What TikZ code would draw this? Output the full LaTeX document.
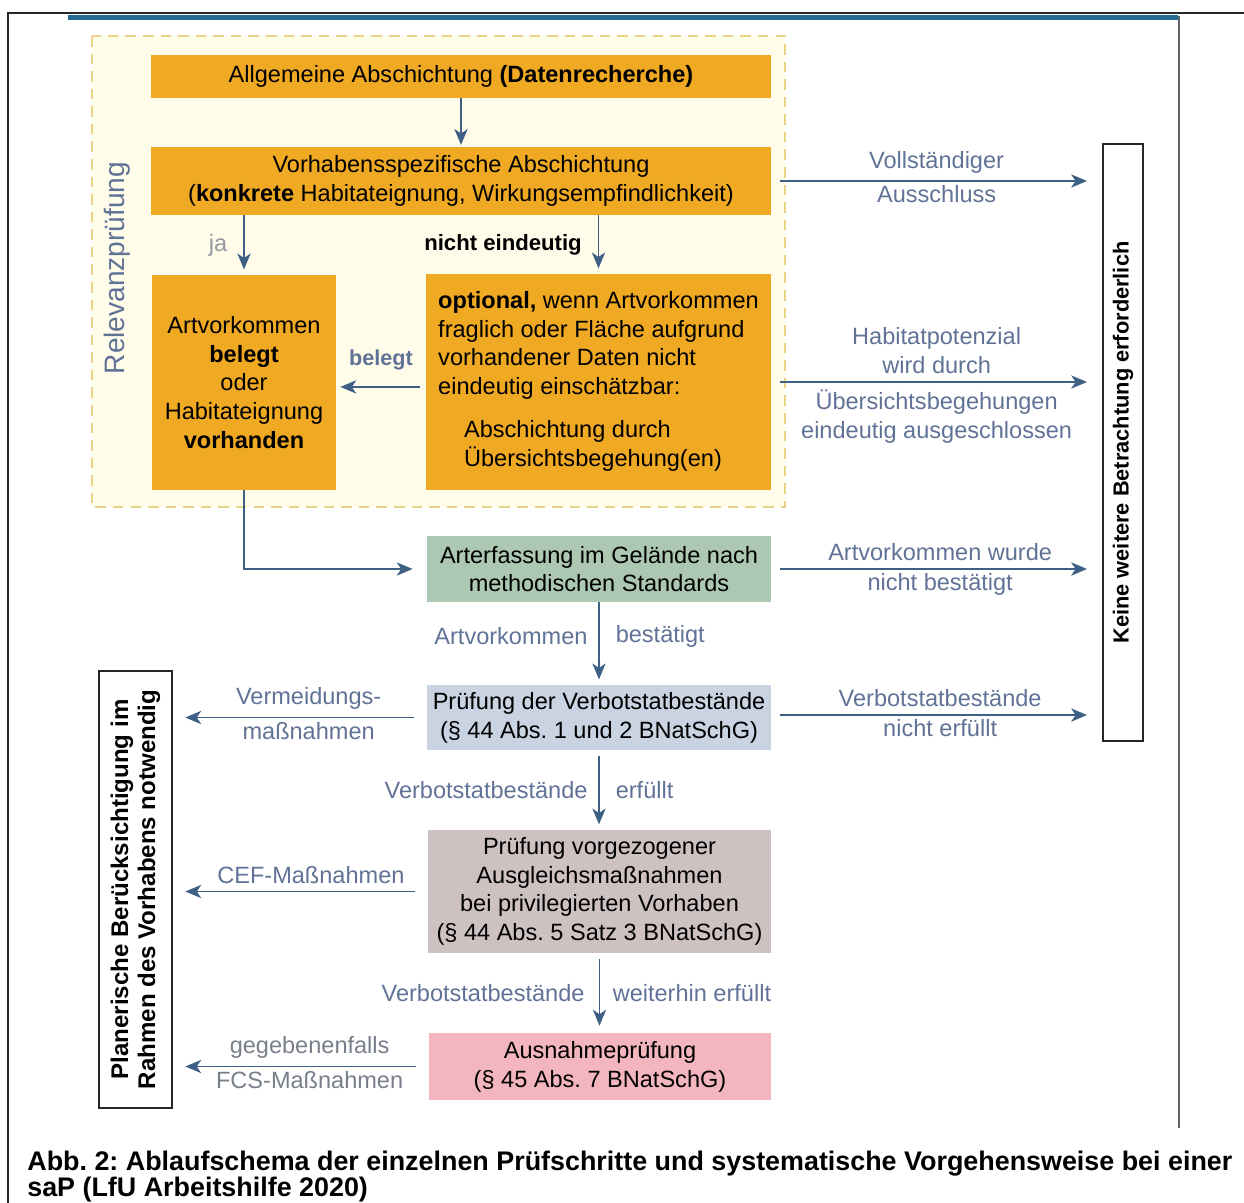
\documentclass[tikz,border=0pt]{standalone}
\usepackage{fontspec}
\setmainfont{Liberation Sans}
\usepackage{graphicx}
\usetikzlibrary{arrows.meta, positioning}
\frenchspacing
\definecolor{boxorange}{RGB}{240,169,34}
\definecolor{boxgreen}{RGB}{172,200,178}
\definecolor{boxblue}{RGB}{201,211,226}
\definecolor{boxgrey}{RGB}{206,193,193}
\definecolor{boxpink}{RGB}{243,182,190}
\definecolor{arrowblue}{RGB}{62,96,132}
\definecolor{labelblue}{RGB}{96,114,150}
\definecolor{labelgrey}{RGB}{120,126,138}
\definecolor{zonefill}{RGB}{255,252,234}
\definecolor{zoneline}{RGB}{232,212,135}
\definecolor{headblue}{RGB}{36,108,148}
\tikzset{stepbox/.style={fill=#1, inner sep=2pt, align=center,
    font=\fontsize{13.4}{16.4}\selectfont},
  flowarrow/.style={draw=arrowblue, line width=1.1pt,
    -{Stealth[length=9pt,width=7.5pt,inset=2.5pt]}},
  armlabel/.style={text=labelblue, inner sep=1pt, align=center,
    font=\fontsize{13.4}{16.4}\selectfont},
  sidebox/.style={draw=black!85, line width=1.2pt, fill=white}
}

\begin{document}
\begin{tikzpicture}[x=0.02cm, y=-0.02cm]
      \useasboundingbox (0,0) rectangle (1244,1203);
      % frame
      \draw[black!85, line width=1.2pt] (7,13) -- (1244,13);
      \draw[black!85, line width=1.2pt] (8,13) -- (8,1203);
      \draw[headblue, line width=2.5pt] (68,17.5) -- (1178,17.5);
      \draw[black!60, line width=1.1pt] (1179,16) -- (1179,1128);
      % Relevanzpruefung
      \draw[zoneline, fill=zonefill, line width=0.8pt, dash pattern=on 6pt off 4pt] (92,36) rectangle (785,507);
      \node[rotate=90, text=labelblue, font=\fontsize{16}{18}\selectfont] (relev) at (117,268) {Relevanzprüfung};
      % boxes
      \node[stepbox=boxorange, minimum width=12.4cm, minimum height=0.86cm] (A1) at (461,76.5)
        {Allgemeine Abschichtung \textbf{(Datenrecherche)}};
      \node[stepbox=boxorange, minimum width=12.4cm, minimum height=1.36cm] (A2) at (461,181)
        {Vorhabensspezifische Abschichtung\\(\textbf{konkrete} Habitateignung, Wirkungsempfindlichkeit)};
      \node[stepbox=boxorange, minimum width=3.68cm, minimum height=4.3cm] (L) at (244,382.5)
        {Artvorkommen\\\textbf{belegt}\\oder\\Habitateignung\\\textbf{vorhanden}};
      \node[stepbox=boxorange, minimum width=6.9cm, minimum height=4.32cm, align=left] (R) at (598.5,382)
        {\textbf{optional,} wenn Artvorkommen\\fraglich oder Fläche aufgrund\\vorhandener Daten nicht\\eindeutig einschätzbar:\\[8pt]
        \hspace*{14.7pt}Abschichtung durch\\\hspace*{14.7pt}Übersichtsbegehung(en)\\[-12.7pt]};
      \node[stepbox=boxgreen, minimum width=6.88cm, minimum height=1.32cm] (G) at (599,569)
        {Arterfassung im Gelände nach\\methodischen Standards};
      \node[stepbox=boxblue, minimum width=6.88cm, minimum height=1.3cm] (V) at (599,717.5)
        {Prüfung der Verbotstatbestände\\(§ 44 Abs. 1 und 2 BNatSchG)};
      \node[stepbox=boxgrey, minimum width=6.86cm, minimum height=2.46cm] (P) at (599.5,891.5)
        {Prüfung vorgezogener\\Ausgleichsmaßnahmen\\bei privilegierten Vorhaben\\(§ 44 Abs. 5 Satz 3 BNatSchG)};
      \node[stepbox=boxpink, minimum width=6.84cm, minimum height=1.34cm] (E) at (600,1066.5)
        {Ausnahmeprüfung\\(§ 45 Abs. 7 BNatSchG)};
      % side boxes
      \node[sidebox, minimum width=0.8cm, minimum height=11.94cm] (K) at (1123,442.5) {};
      \node[rotate=90, font=\bfseries\fontsize{12.4}{14}\selectfont] (Ktext) at (K) {Keine weitere Betrachtung erforderlich};
      \node[sidebox, minimum width=1.46cm, minimum height=8.74cm] (N) at (135.5,889.5) {};
      \node[rotate=90, align=center, font=\bfseries\fontsize{13.7}{15.3}\selectfont] (Ntext) at (N)
        {Planerische Berücksichtigung im\\Rahmen des Vorhabens notwendig};
      % main flow
      \draw[flowarrow, shorten >=1pt] (A1) -- (A2);
      \draw[flowarrow, shorten >=3pt] (A2.south -| L.north) -- (L.north)
        node[midway, left=8pt, armlabel, text=labelgrey!80] (ja) {ja};
      \draw[flowarrow, shorten >=3pt] (A2.south -| R.north) -- (R.north)
        node[midway, left=8pt, armlabel, text=black, font=\bfseries\fontsize{12.6}{15}\selectfont] (unklar) {nicht eindeutig};
      \draw[flowarrow, shorten <=3.4pt, shorten >=2.3pt] ([yshift=-2.8pt]R.west) -- ([yshift=-2.8pt]R.west -| L.east)
        node[midway, above=8pt, armlabel, font=\bfseries\fontsize{12.3}{15}\selectfont] (belegt) {belegt};
      \draw[flowarrow, shorten >=8pt] (L.south) |- (G.west);
      \draw[flowarrow, shorten >=3pt] (G.south) -- (G.south |- V.north)
        node[midway, left=5pt, yshift=4pt, armlabel] (gl) {Artvorkommen}
        node[midway, right=8pt, yshift=4pt, armlabel] (gr) {bestätigt};
      \draw[flowarrow, shorten <=3pt, shorten >=3pt] (V.south) -- (V.south |- P.north)
        node[midway, left=5pt, armlabel] (vl) {Verbotstatbestände}
        node[midway, right=8pt, armlabel] (vr) {erfüllt};
      \draw[flowarrow, shorten <=3pt, shorten >=4pt] (P.south) -- (P.south |- E.north)
        node[midway, left=7pt, armlabel] (pl) {Verbotstatbestände}
        node[midway, right=6pt, armlabel] (pr) {weiterhin erfüllt};
      % to the right
      \draw[flowarrow, shorten <=5pt, shorten >=8.5pt] (A2.east) -- (A2.east -| K.west)
        node[midway, above=3pt, armlabel] (r1a) {Vollständiger}
        node[midway, below=1pt, armlabel] (r1b) {Ausschluss};
      \draw[flowarrow, shorten <=5pt, shorten >=8.5pt] (R.east) -- (R.east -| K.west)
        node[midway, above=3pt, armlabel] (r2a) {Habitatpotenzial\\wird durch}
        node[midway, below=3pt, armlabel] (r2b) {Übersichtsbegehungen\\eindeutig ausgeschlossen};
      \draw[flowarrow, shorten <=5pt, shorten >=8.5pt] (G.east) -- (G.east -| K.west)
        node[midway, above=3pt, xshift=2pt, armlabel] (r3a) {Artvorkommen wurde}
        node[midway, below=1pt, xshift=2pt, armlabel] (r3b) {nicht bestätigt};
      \draw[flowarrow, shorten <=5pt, shorten >=8.5pt] ([yshift=1.4pt]V.east) -- ([yshift=1.4pt]V.east -| K.west)
        node[midway, above=3pt, xshift=2pt, armlabel] (r4a) {Verbotstatbestände}
        node[midway, below=1pt, xshift=2pt, armlabel] (r4b) {nicht erfüllt};
      % to the left
      \draw[flowarrow, shorten <=7pt, shorten >=7pt] (V.west) -- (V.west -| N.east)
        node[midway, above=3pt, xshift=5pt, armlabel] (l1a) {Vermeidungs-}
        node[midway, below=1pt, xshift=5pt, armlabel] (l1b) {maßnahmen};
      \draw[flowarrow, shorten <=7pt, shorten >=7pt] (P.west) -- (P.west -| N.east)
        node[midway, above=3pt, xshift=6pt, armlabel] (l2a) {CEF-Maßnahmen};
      \draw[flowarrow, shorten <=7pt, shorten >=7pt] (E.west) -- (E.west -| N.east)
        node[midway, above=3pt, xshift=5pt, armlabel, text=labelgrey] (l3a) {gegebenenfalls}
        node[midway, below=1pt, xshift=5pt, armlabel, text=labelgrey] (l3b) {FCS-Maßnahmen};
      % caption
      \node[anchor=base west, inner sep=0pt, font=\bfseries\fontsize{15.3}{16}\selectfont] (cap1) at (27,1170)
        {Abb. 2: Ablaufschema der einzelnen Prüfschritte und systematische Vorgehensweise bei einer};
      \node[anchor=base west, inner sep=0pt, font=\bfseries\fontsize{15.3}{16}\selectfont] (cap2) at (27,1196)
        {saP (LfU Arbeitshilfe 2020)};
\end{tikzpicture}
\end{document}
